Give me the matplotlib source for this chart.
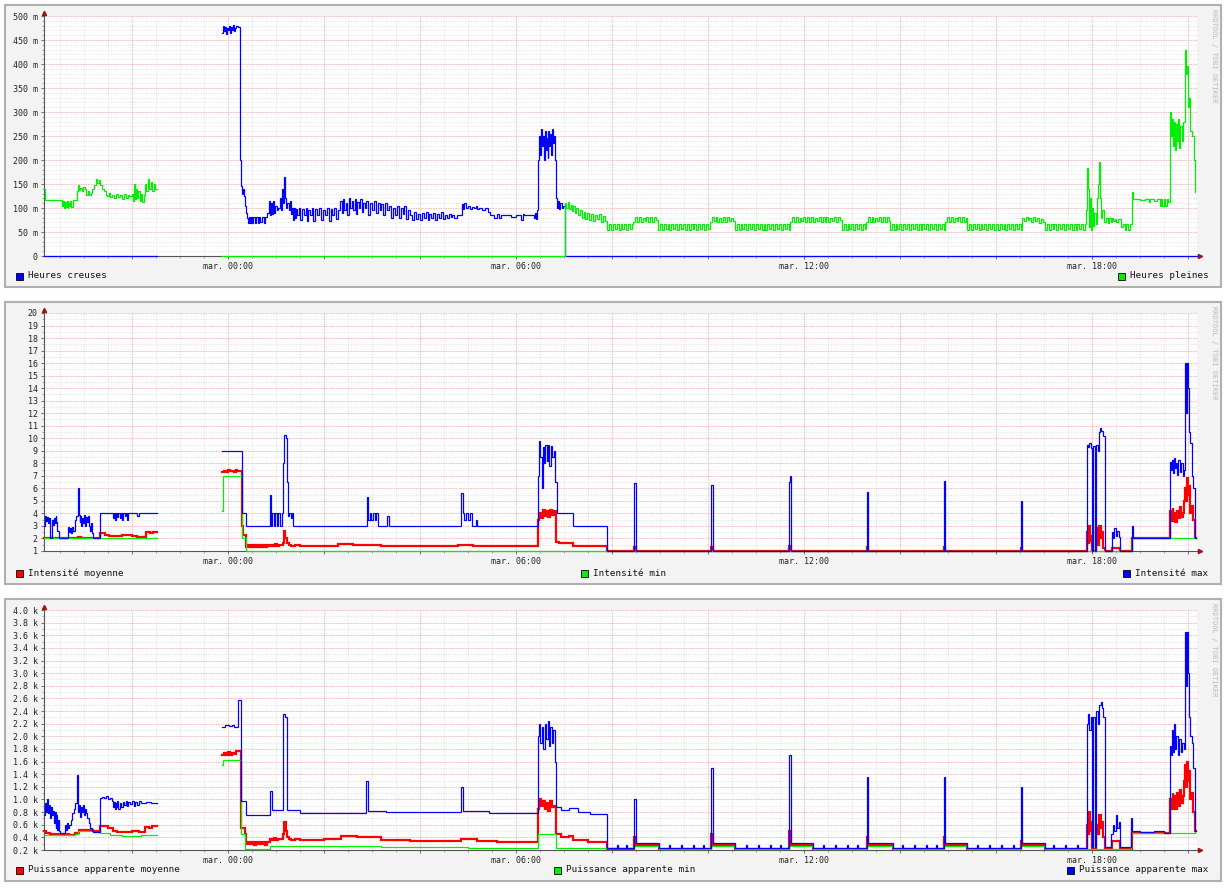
import numpy as np
import matplotlib
matplotlib.use('Agg')
import matplotlib.pyplot as plt
from matplotlib.patches import Rectangle
from matplotlib.ticker import MultipleLocator, FuncFormatter

nan = float('nan')

# time axis in hours since Monday 00:00 (window Mon 20:10 -> Tue 20:10)
T_START, T_END = 20.17, 44.19

# ---- panel 1 : consommation (m) ----
HC = [(20.17, 0), (22.52, nan),
      (23.88, 465), (23.90, 480), (23.92, 468), (23.94, 478), (23.96, 462), (23.98, 475), (24.00, 470),
      (24.02, 480), (24.04, 465), (24.06, 478), (24.08, 470), (24.10, 482), (24.12, 468), (24.14, 476),
      (24.17, 480), (24.21, 478), (24.25, 200), (24.27, 145), (24.29, 130), (24.31, 140), (24.33, 125),
      (24.35, 105), (24.38, 90), (24.40, 80), (24.42, 68), (24.44, 82), (24.46, 68), (24.48, 82), (24.50, 68),
      (24.53, 82), (24.56, 68), (24.59, 82), (24.62, 68), (24.65, 82), (24.68, 70), (24.71, 82), (24.75, 68),
      (24.78, 82), (24.82, 90), (24.86, 115), (24.88, 85), (24.90, 110), (24.92, 88), (24.94, 115), (24.96, 90),
      (24.99, 105), (25.02, 95), (25.05, 100), (25.08, 120), (25.10, 95), (25.12, 140), (25.14, 110),
      (25.17, 165), (25.19, 120), (25.21, 100), (25.24, 110), (25.27, 95), (25.29, 115), (25.31, 88),
      (25.33, 100), (25.35, 75), (25.37, 100), (25.40, 80), (25.42, 98), (25.45, 85), (25.48, 100), (25.51, 75),
      (25.54, 98), (25.58, 85), (25.62, 100), (25.65, 72), (25.68, 95), (25.72, 85), (25.75, 100), (25.78, 72),
      (25.82, 98), (25.86, 85), (25.90, 100), (25.94, 75), (25.98, 95), (26.02, 85), (26.06, 100), (26.10, 72),
      (26.14, 98), (26.18, 85), (26.22, 100), (26.26, 78), (26.30, 95), (26.34, 115), (26.37, 90), (26.40, 118),
      (26.43, 95), (26.46, 110), (26.49, 85), (26.52, 120), (26.55, 100), (26.58, 115), (26.61, 95), (26.64, 118),
      (26.67, 88), (26.70, 112), (26.73, 100), (26.76, 118), (26.79, 92), (26.82, 110), (26.85, 100),
      (26.88, 115), (26.92, 85), (26.96, 110), (27.00, 95), (27.04, 115), (27.08, 90), (27.12, 110), (27.16, 95),
      (27.20, 108), (27.24, 85), (27.28, 110), (27.32, 95), (27.36, 105), (27.40, 80), (27.44, 100), (27.48, 85),
      (27.52, 105), (27.56, 80), (27.60, 100), (27.64, 88), (27.68, 105), (27.72, 78), (27.76, 95), (27.80, 85),
      (27.84, 75), (27.88, 92), (27.92, 78), (27.96, 88), (28.00, 75), (28.04, 90), (28.08, 80), (28.12, 92),
      (28.16, 75), (28.20, 88), (28.24, 80), (28.28, 90), (28.32, 76), (28.36, 88), (28.40, 80), (28.44, 92),
      (28.48, 78), (28.52, 85), (28.56, 80), (28.60, 88), (28.64, 82), (28.68, 86), (28.72, 80), (28.78, 85),
      (28.87, 108), (28.90, 98), (28.93, 110), (28.96, 100), (29.00, 105), (29.04, 98), (29.08, 103),
      (29.12, 100), (29.16, 105), (29.20, 98), (29.24, 100), (29.30, 95), (29.36, 100), (29.42, 92),
      (29.46, 85), (29.55, 80), (29.60, 88), (29.65, 80), (29.70, 85), (29.90, 82), (30.00, 85), (30.10, 75),
      (30.14, 88), (30.18, 85), (30.38, 80), (30.40, 90), (30.42, 78), (30.44, 95), (30.46, 200), (30.48, 250),
      (30.50, 210), (30.52, 265), (30.54, 230), (30.56, 250), (30.58, 200), (30.60, 260), (30.62, 220),
      (30.64, 245), (30.66, 205), (30.68, 260), (30.70, 230), (30.72, 255), (30.74, 210), (30.76, 265),
      (30.78, 235), (30.80, 250), (30.82, 200), (30.84, 120), (30.86, 100), (30.88, 115), (30.90, 98),
      (30.93, 110), (30.96, 100), (30.99, 105), (31.02, 0), (T_END, 0)]

HP = [(20.17, 140), (20.19, 117), (20.54, 105), (20.56, 115), (20.58, 100), (20.60, 112), (20.62, 102),
      (20.64, 114), (20.66, 100), (20.68, 110), (20.70, 104), (20.72, 115), (20.74, 102), (20.77, 117),
      (20.86, 135), (20.88, 147), (20.90, 138), (20.93, 142), (20.96, 136), (20.99, 144), (21.02, 140),
      (21.05, 128), (21.08, 136), (21.11, 128), (21.14, 132), (21.18, 140), (21.22, 148), (21.25, 160),
      (21.28, 152), (21.31, 158), (21.34, 148), (21.38, 140), (21.42, 135), (21.46, 128), (21.49, 125),
      (21.52, 132), (21.55, 122), (21.59, 128), (21.63, 120), (21.67, 130), (21.71, 122), (21.75, 128),
      (21.79, 118), (21.83, 130), (21.87, 120), (21.91, 127), (21.95, 124), (22.00, 130), (22.03, 115),
      (22.05, 150), (22.07, 118), (22.09, 140), (22.11, 120), (22.13, 135), (22.16, 115), (22.19, 130),
      (22.22, 112), (22.25, 128), (22.28, 150), (22.30, 135), (22.33, 160), (22.36, 140), (22.39, 155),
      (22.42, 135), (22.46, 150), (22.49, 140), (22.52, nan),
      (23.88, 0), (31.02, 110), (31.05, 100), (31.08, 112), (31.11, 98), (31.14, 106), (31.17, 94),
      (31.20, 104), (31.23, 90), (31.26, 100), (31.29, 85), (31.33, 95), (31.37, 80), (31.41, 92), (31.45, 78),
      (31.49, 90), (31.53, 75), (31.57, 88), (31.61, 72), (31.65, 85), (31.69, 78), (31.73, 88), (31.77, 70),
      (31.81, 84), (31.85, 72),
      (31.90, 55), (31.94, 66), (31.98, 55), (32.02, 66), (32.06, 57), (32.10, 66), (32.14, 55), (32.18, 66),
      (32.22, 56), (32.26, 66), (32.30, 55), (32.34, 66), (32.38, 57), (32.41, 66),
      (32.44, 70), (32.48, 82), (32.52, 71), (32.56, 82), (32.60, 70), (32.64, 80), (32.68, 72), (32.72, 82),
      (32.76, 70), (32.80, 82), (32.84, 71), (32.88, 82), (32.92, 74),
      (32.96, 55), (33.00, 66), (33.04, 55), (33.08, 66), (33.12, 56), (33.16, 66), (33.20, 55), (33.24, 66),
      (33.28, 57), (33.32, 66), (33.36, 55), (33.40, 66), (33.44, 56), (33.48, 66), (33.52, 55), (33.56, 66),
      (33.60, 55), (33.64, 66), (33.68, 57), (33.72, 66), (33.76, 55), (33.80, 66), (33.84, 56), (33.88, 66),
      (33.92, 55), (33.96, 66), (34.00, 56),
      (34.04, 70), (34.08, 82), (34.12, 72), (34.16, 82), (34.20, 70), (34.24, 80), (34.28, 71), (34.32, 82),
      (34.36, 70), (34.40, 82), (34.44, 73), (34.48, 80), (34.52, 72),
      (34.56, 55), (34.60, 66), (34.64, 55), (34.68, 66), (34.72, 56), (34.76, 66), (34.80, 55), (34.84, 66),
      (34.88, 57), (34.92, 66), (34.96, 55), (35.00, 66), (35.04, 56), (35.08, 66), (35.12, 55), (35.16, 66),
      (35.20, 55), (35.24, 66), (35.28, 57), (35.32, 66), (35.36, 55), (35.40, 66), (35.44, 56), (35.48, 66),
      (35.52, 55), (35.56, 66), (35.60, 57), (35.64, 66), (35.68, 55),
      (35.71, 70), (35.75, 82), (35.79, 71), (35.83, 82), (35.87, 70), (35.91, 80), (35.95, 72), (35.99, 82),
      (36.03, 70), (36.07, 82), (36.11, 71), (36.15, 82), (36.19, 70), (36.23, 80), (36.27, 72), (36.31, 82),
      (36.35, 70), (36.39, 82), (36.43, 71), (36.47, 82), (36.51, 70), (36.55, 80), (36.59, 72), (36.63, 82),
      (36.67, 70), (36.71, 82), (36.75, 74),
      (36.79, 55), (36.83, 66), (36.87, 55), (36.91, 66), (36.95, 56), (36.99, 66), (37.03, 55), (37.07, 66),
      (37.11, 57), (37.15, 66), (37.19, 55), (37.23, 66), (37.27, 56),
      (37.29, 70), (37.33, 82), (37.37, 71), (37.41, 82), (37.45, 70), (37.49, 80), (37.53, 72), (37.57, 82),
      (37.61, 70), (37.65, 82), (37.69, 71), (37.73, 82), (37.77, 72),
      (37.79, 55), (37.83, 66), (37.87, 55), (37.91, 66), (37.95, 56), (37.99, 66), (38.03, 55), (38.07, 66),
      (38.11, 57), (38.15, 66), (38.19, 55), (38.23, 66), (38.27, 56), (38.31, 66), (38.35, 55), (38.39, 66),
      (38.43, 55), (38.47, 66), (38.51, 57), (38.55, 66), (38.59, 55), (38.63, 66), (38.67, 56), (38.71, 66),
      (38.75, 55), (38.79, 66), (38.83, 57), (38.87, 66), (38.91, 55),
      (38.94, 70), (38.98, 82), (39.02, 71), (39.06, 82), (39.10, 70), (39.14, 80), (39.18, 72), (39.22, 82),
      (39.26, 70), (39.30, 82), (39.34, 71), (39.38, 80),
      (39.40, 55), (39.44, 66), (39.48, 55), (39.52, 66), (39.56, 56), (39.60, 66), (39.64, 55), (39.68, 66),
      (39.72, 57), (39.76, 66), (39.80, 55), (39.84, 66), (39.88, 56), (39.92, 66), (39.96, 55), (40.00, 66),
      (40.04, 55), (40.08, 66), (40.12, 57), (40.16, 66), (40.20, 55), (40.24, 66), (40.28, 56), (40.32, 66),
      (40.36, 55), (40.40, 66), (40.44, 57), (40.48, 66), (40.52, 55),
      (40.54, 80), (40.58, 72), (40.62, 82), (40.66, 74), (40.70, 80), (40.74, 70), (40.78, 82), (40.82, 72),
      (40.86, 80), (40.90, 68), (40.94, 78), (40.98, 70),
      (41.02, 55), (41.06, 66), (41.10, 55), (41.14, 66), (41.18, 56), (41.22, 66), (41.26, 55), (41.30, 66),
      (41.34, 57), (41.38, 66), (41.42, 55), (41.46, 66), (41.50, 56), (41.54, 66), (41.58, 55), (41.62, 66),
      (41.66, 55), (41.70, 66), (41.74, 57), (41.78, 66), (41.82, 55), (41.86, 66),
      (41.88, 95), (41.90, 183), (41.92, 140), (41.94, 60), (41.96, 120), (41.98, 55), (42.00, 100),
      (42.02, 62), (42.05, 90), (42.08, 66), (42.10, 120), (42.12, 150), (42.14, 196), (42.16, 120),
      (42.18, 100), (42.20, 80), (42.22, 95), (42.25, 70), (42.27, 70), (42.30, 80), (42.33, 68), (42.36, 80),
      (42.39, 70), (42.42, 80), (42.45, 72), (42.48, 78), (42.51, 70), (42.55, 78), (42.60, 60), (42.64, 66),
      (42.68, 55), (42.72, 66), (42.76, 55), (42.80, 66),
      (42.83, 133), (42.85, 118), (43.00, 116), (43.10, 118), (43.18, 112), (43.22, 118), (43.30, 115),
      (43.36, 118), (43.42, 105), (43.44, 118), (43.47, 105), (43.50, 118), (43.53, 105), (43.56, 118),
      (43.59, 112), (43.63, 300), (43.65, 250), (43.67, 285), (43.69, 230), (43.71, 280), (43.73, 220),
      (43.75, 275), (43.77, 240), (43.79, 285), (43.81, 225), (43.84, 270), (43.87, 240), (43.90, 280),
      (43.93, 360), (43.95, 430), (43.97, 380), (43.99, 395), (44.01, 310), (44.03, 330), (44.05, 260),
      (44.08, 250), (44.12, 200), (44.14, 133), (44.15, nan)]

# ---- panel 2 : intensite (A) ----
I_MOY = [(20.17, 2.05), (20.50, 2.0), (20.88, 2.1), (20.95, 2.05), (21.34, 2.4), (21.45, 2.3), (21.52, 2.2),
         (21.80, 2.25), (22.00, 2.2), (22.10, 2.15), (22.30, 2.5), (22.38, 2.4), (22.45, 2.55), (22.52, nan),
         (23.88, 7.3), (23.92, 7.4), (23.96, 7.3), (24.00, 7.45), (24.04, 7.35), (24.08, 7.4), (24.12, 7.3),
         (24.16, 7.5), (24.20, 7.4), (24.25, 7.35), (24.29, 3.0), (24.31, 2.3), (24.38, 1.35), (24.42, 1.45),
         (24.46, 1.3), (24.50, 1.45), (24.54, 1.35), (24.58, 1.5), (24.62, 1.3), (24.66, 1.45), (24.70, 1.35),
         (24.74, 1.5), (24.78, 1.35), (24.82, 1.45), (24.86, 1.4), (24.90, 1.5), (24.94, 1.4), (24.98, 1.55),
         (25.02, 1.4), (25.06, 1.5), (25.10, 1.45), (25.14, 1.6), (25.17, 2.6), (25.20, 2.0), (25.23, 1.6),
         (25.27, 1.5), (25.31, 1.4), (25.40, 1.5), (25.50, 1.4), (26.30, 1.55), (26.60, 1.45), (27.20, 1.4),
         (28.80, 1.45), (29.10, 1.4), (30.46, 3.5), (30.48, 4.0), (30.52, 3.6), (30.56, 4.3), (30.60, 3.8),
         (30.64, 4.2), (30.68, 3.7), (30.72, 4.3), (30.76, 3.9), (30.80, 4.2), (30.84, 1.7), (30.90, 1.6),
         (31.19, 1.4), (31.90, 1.0), (32.47, 1.3), (32.50, 1.0), (34.07, 1.3), (34.10, 1.0), (35.69, 1.4),
         (35.74, 1.0), (37.31, 1.3), (37.34, 1.0), (38.92, 1.3), (38.95, 1.0), (40.52, 1.2), (40.55, 1.0),
         (41.90, 2.5), (41.92, 1.6), (41.94, 3.0), (41.96, 1.8), (41.98, 2.2), (42.00, 1.0), (42.09, 2.8),
         (42.12, 1.5), (42.15, 3.0), (42.18, 2.0), (42.21, 2.5), (42.24, 1.2), (42.27, 1.0), (42.42, 1.2),
         (42.58, 1.0), (42.83, 2.0), (43.63, 4.2), (43.66, 3.4), (43.68, 4.4), (43.70, 3.5), (43.72, 4.0),
         (43.74, 3.3), (43.77, 4.2), (43.80, 3.6), (43.83, 4.5), (43.86, 3.7), (43.89, 4.0), (43.92, 5.0),
         (43.94, 6.0), (43.96, 5.0), (43.98, 6.8), (44.00, 5.5), (44.02, 6.2), (44.05, 4.0), (44.08, 4.6),
         (44.11, 3.5), (44.15, 2.0), (44.17, nan)]

I_MIN = [(20.17, 2.0), (22.52, nan), (23.88, 4.2), (23.90, 7.0), (24.29, 2.0), (24.38, 1.0), (42.83, 2.0),
         (44.15, 2.0), (44.17, nan)]

I_MAX = [(20.17, 3.0), (20.19, 3.8), (20.21, 3.4), (20.23, 3.7), (20.25, 3.2), (20.27, 3.6), (20.29, 3.1),
         (20.30, 2.0), (20.33, 3.5), (20.35, 3.1), (20.37, 3.6), (20.39, 3.2), (20.41, 3.8), (20.43, 3.3),
         (20.45, 2.6), (20.48, 2.0), (20.67, 2.9), (20.69, 2.5), (20.71, 2.8), (20.73, 2.4), (20.75, 2.9),
         (20.78, 2.6), (20.81, 3.5), (20.84, 3.8), (20.87, 6.0), (20.89, 3.9), (20.91, 3.3), (20.93, 3.8),
         (20.95, 3.0), (20.97, 3.6), (20.99, 3.2), (21.01, 3.9), (21.03, 3.0), (21.05, 3.7), (21.07, 3.3),
         (21.09, 3.8), (21.11, 3.0), (21.13, 2.6), (21.15, 3.2), (21.17, 2.4), (21.19, 2.0), (21.34, 4.0),
         (21.61, 3.6), (21.63, 4.0), (21.65, 3.5), (21.67, 4.0), (21.70, 3.7), (21.72, 4.0), (21.75, 3.6),
         (21.77, 4.0), (21.80, 3.5), (21.82, 4.0), (21.85, 3.8), (21.88, 4.0), (21.90, 3.5), (21.93, 4.0),
         (22.10, 3.8), (22.14, 4.0), (22.52, nan),
         (23.88, 9.0), (24.29, 4.0), (24.38, 3.0), (24.88, 5.5), (24.90, 3.0), (24.93, 4.0), (24.96, 3.0),
         (24.99, 4.0), (25.02, 3.0), (25.05, 4.0), (25.09, 3.0), (25.13, 4.0), (25.15, 8.0), (25.17, 10.3),
         (25.21, 10.0), (25.23, 6.5), (25.25, 3.8), (25.28, 4.0), (25.31, 3.6), (25.33, 4.0), (25.36, 3.0),
         (26.90, 5.3), (26.93, 3.5), (26.96, 4.0), (26.99, 3.5), (27.02, 4.0), (27.06, 3.5), (27.09, 4.0),
         (27.13, 3.0), (27.31, 3.8), (27.35, 3.0), (28.86, 5.6), (28.90, 4.0), (28.93, 3.5), (28.96, 4.0),
         (29.00, 3.5), (29.04, 4.0), (29.08, 3.0), (29.17, 3.5), (29.20, 3.0), (30.46, 7.0), (30.48, 9.8),
         (30.51, 8.5), (30.54, 6.0), (30.56, 9.3), (30.58, 8.0), (30.61, 9.5), (30.64, 8.2), (30.67, 9.5),
         (30.70, 7.8), (30.73, 9.4), (30.76, 8.5), (30.79, 9.0), (30.82, 6.5), (30.85, 4.0), (31.19, 3.0),
         (31.90, 1.0), (32.47, 6.4), (32.50, 1.0), (34.07, 6.3), (34.10, 1.0), (35.69, 6.5), (35.71, 7.0),
         (35.74, 1.0), (37.31, 5.7), (37.34, 1.0), (38.92, 6.6), (38.95, 1.0), (40.52, 5.0), (40.55, 1.0),
         (41.90, 9.5), (41.92, 9.3), (41.95, 9.6), (41.98, 9.2), (42.00, 1.0), (42.03, 9.4), (42.06, 1.0),
         (42.09, 9.5), (42.12, 9.0), (42.15, 10.5), (42.17, 10.8), (42.20, 10.6), (42.23, 10.2), (42.27, 1.0),
         (42.42, 2.5), (42.44, 2.0), (42.47, 2.8), (42.50, 2.2), (42.53, 2.6), (42.56, 2.1), (42.58, 1.0),
         (42.83, 3.0), (42.85, 2.0), (43.63, 8.1), (43.65, 7.5), (43.67, 8.3), (43.69, 7.2), (43.71, 8.4),
         (43.73, 7.6), (43.75, 8.0), (43.77, 7.1), (43.80, 8.3), (43.83, 7.3), (43.86, 8.0), (43.89, 7.0),
         (43.92, 7.5), (43.94, 16.0), (43.96, 12.0), (43.98, 16.0), (44.00, 14.0), (44.02, 10.5), (44.05, 9.6),
         (44.08, 7.0), (44.11, 6.0), (44.15, 2.0), (44.17, nan)]

# ---- panel 3 : puissance apparente (kVA) ----
P_MOY = [(20.17, 0.50), (20.22, 0.47), (20.30, 0.46), (20.50, 0.45), (20.70, 0.44), (20.82, 0.47),
         (20.90, 0.52), (21.20, 0.50), (21.34, 0.58), (21.50, 0.55), (21.60, 0.50), (21.70, 0.48), (22.00, 0.50),
         (22.15, 0.49), (22.28, 0.57), (22.35, 0.55), (22.42, 0.58), (22.52, nan),
         (23.88, 1.70), (23.92, 1.74), (23.96, 1.70), (24.00, 1.75), (24.04, 1.71), (24.08, 1.74), (24.12, 1.72),
         (24.17, 1.76), (24.27, 0.55), (24.35, 0.45), (24.38, 0.30), (24.42, 0.33), (24.46, 0.29), (24.50, 0.32),
         (24.54, 0.28), (24.58, 0.32), (24.62, 0.29), (24.66, 0.33), (24.70, 0.29), (24.74, 0.32), (24.78, 0.28),
         (24.82, 0.32), (24.88, 0.38), (24.92, 0.36), (24.96, 0.39), (25.00, 0.36), (25.05, 0.38), (25.10, 0.37),
         (25.15, 0.45), (25.18, 0.65), (25.21, 0.50), (25.24, 0.40), (25.28, 0.38), (25.32, 0.36), (25.40, 0.38),
         (25.50, 0.36), (26.00, 0.38), (26.35, 0.42), (26.70, 0.40), (27.20, 0.36), (27.80, 0.35), (28.40, 0.34),
         (28.86, 0.37), (29.20, 0.34), (29.60, 0.33), (30.46, 0.85), (30.48, 1.0), (30.52, 0.9), (30.56, 0.98),
         (30.60, 0.85), (30.64, 0.95), (30.68, 0.82), (30.72, 0.97), (30.76, 0.88), (30.80, 0.9), (30.84, 0.45),
         (30.95, 0.40), (31.10, 0.42), (31.20, 0.36), (31.50, 0.33), (31.90, 0.21), (32.47, 0.40), (32.50, 0.28),
         (32.98, 0.21), (34.07, 0.45), (34.10, 0.28), (34.56, 0.21), (35.69, 0.50), (35.73, 0.28), (36.19, 0.21),
         (37.31, 0.40), (37.34, 0.28), (37.85, 0.21), (38.92, 0.40), (38.95, 0.28), (39.40, 0.21), (40.52, 0.35),
         (40.55, 0.28), (41.02, 0.21), (41.90, 0.60), (41.92, 0.45), (41.94, 0.80), (41.96, 0.5), (41.98, 0.65),
         (42.00, 0.21), (42.09, 0.6), (42.12, 0.45), (42.15, 0.75), (42.18, 0.55), (42.21, 0.65), (42.24, 0.4),
         (42.27, 0.21), (42.42, 0.35), (42.58, 0.21), (42.83, 0.47), (43.63, 1.0), (43.66, 0.85), (43.68, 1.1),
         (43.70, 0.9), (43.72, 1.05), (43.74, 0.85), (43.77, 1.1), (43.80, 0.9), (43.83, 1.15), (43.86, 0.95),
         (43.89, 1.05), (43.92, 1.3), (43.94, 1.55), (43.96, 1.2), (43.98, 1.6), (44.00, 1.3), (44.02, 1.45),
         (44.05, 1.0), (44.08, 1.1), (44.11, 0.8), (44.15, 0.5), (44.17, nan)]

P_MIN = [(20.17, 0.44), (20.50, 0.43), (20.82, 0.45), (20.88, 0.50), (21.20, 0.48), (21.34, 0.47),
         (21.55, 0.44), (21.80, 0.42), (22.20, 0.43), (22.52, nan),
         (23.88, 1.55), (23.90, 1.62), (24.00, 1.63), (24.27, 0.45), (24.35, 0.22), (24.88, 0.27), (25.50, 0.26),
         (27.20, 0.25), (29.00, 0.23), (30.46, 0.45), (30.84, 0.23), (32.47, 0.27), (32.98, 0.21), (34.07, 0.27),
         (34.56, 0.21), (35.69, 0.27), (36.19, 0.21), (37.31, 0.27), (37.85, 0.21), (38.92, 0.27), (39.40, 0.21),
         (40.52, 0.27), (41.02, 0.21), (42.81, 0.47), (44.15, 0.5), (44.17, nan)]

P_MAX = [(20.17, 0.75), (20.19, 0.95), (20.21, 0.80), (20.23, 1.00), (20.25, 0.78), (20.27, 0.92),
         (20.29, 0.70), (20.31, 0.88), (20.33, 0.75), (20.35, 0.82), (20.37, 0.62), (20.39, 0.80), (20.41, 0.55),
         (20.43, 0.75), (20.45, 0.52), (20.47, 0.68), (20.49, 0.50), (20.51, 0.47), (20.61, 0.60), (20.63, 0.52),
         (20.65, 0.62), (20.67, 0.55), (20.70, 0.60), (20.73, 0.68), (20.76, 0.78), (20.79, 0.85), (20.82, 0.95),
         (20.86, 1.38), (20.88, 0.80), (20.90, 0.92), (20.92, 0.72), (20.94, 0.88), (20.96, 0.80), (20.98, 0.92),
         (21.00, 0.75), (21.02, 0.85), (21.04, 0.78), (21.07, 0.70), (21.10, 0.62), (21.13, 0.55), (21.16, 0.50),
         (21.19, 0.48), (21.34, 1.02), (21.38, 1.04), (21.42, 1.02), (21.46, 1.05), (21.50, 1.0), (21.54, 1.02),
         (21.58, 0.98), (21.60, 0.88), (21.62, 0.96), (21.64, 0.85), (21.66, 0.95), (21.68, 0.88), (21.70, 0.97),
         (21.72, 0.85), (21.75, 0.95), (21.78, 0.88), (21.81, 0.96), (21.84, 0.92), (21.87, 0.98), (21.90, 0.90),
         (21.93, 0.96), (21.96, 0.93), (22.00, 0.97), (22.04, 0.90), (22.07, 0.96), (22.10, 0.92), (22.14, 0.97),
         (22.20, 0.94), (22.30, 0.96), (22.40, 0.95), (22.52, nan),
         (23.88, 2.15), (23.95, 2.18), (24.02, 2.16), (24.08, 2.18), (24.12, 2.15), (24.21, 2.58), (24.27, 0.97),
         (24.38, 0.75), (24.88, 1.13), (24.91, 0.83), (25.15, 2.35), (25.20, 2.30), (25.24, 0.83), (25.50, 0.78),
         (26.88, 1.30), (26.92, 0.82), (27.30, 0.80), (28.86, 1.20), (28.90, 0.82), (29.45, 0.78), (30.46, 2.0),
         (30.48, 2.2), (30.51, 1.9), (30.54, 2.15), (30.57, 1.8), (30.60, 2.2), (30.63, 1.95), (30.66, 2.25),
         (30.69, 1.85), (30.72, 2.15), (30.75, 1.9), (30.78, 2.1), (30.81, 1.6), (30.84, 0.88), (30.95, 0.84),
         (31.10, 0.86), (31.30, 0.80), (31.55, 0.77),
         (31.90, 0.23), (32.10, 0.28), (32.12, 0.23), (32.30, 0.28), (32.32, 0.23),
         (32.47, 1.00), (32.50, 0.31), (32.98, 0.23), (33.20, 0.28), (33.22, 0.23), (33.45, 0.28), (33.47, 0.23),
         (33.70, 0.28), (33.72, 0.23), (33.90, 0.28), (33.92, 0.23),
         (34.07, 1.50), (34.10, 0.31), (34.56, 0.23), (34.80, 0.28), (34.82, 0.23), (35.05, 0.28), (35.07, 0.23),
         (35.30, 0.28), (35.32, 0.23), (35.50, 0.28), (35.52, 0.23),
         (35.69, 1.70), (35.73, 0.31), (36.19, 0.23), (36.40, 0.28), (36.42, 0.23), (36.65, 0.28), (36.67, 0.23),
         (36.90, 0.28), (36.92, 0.23), (37.10, 0.28), (37.12, 0.23),
         (37.31, 1.35), (37.34, 0.31), (37.85, 0.23), (38.05, 0.28), (38.07, 0.23), (38.30, 0.28), (38.32, 0.23),
         (38.55, 0.28), (38.57, 0.23), (38.75, 0.28), (38.77, 0.23),
         (38.92, 1.35), (38.95, 0.31), (39.40, 0.23), (39.60, 0.28), (39.62, 0.23), (39.85, 0.28), (39.87, 0.23),
         (40.10, 0.28), (40.12, 0.23), (40.35, 0.28), (40.37, 0.23),
         (40.52, 1.20), (40.55, 0.31), (41.02, 0.23), (41.20, 0.28), (41.22, 0.23), (41.45, 0.28), (41.47, 0.23),
         (41.70, 0.28), (41.72, 0.23),
         (41.90, 2.2), (41.92, 2.35), (41.95, 2.1), (41.98, 2.3), (42.00, 0.25), (42.03, 2.3), (42.06, 0.25),
         (42.09, 2.4), (42.12, 2.2), (42.15, 2.5), (42.18, 2.55), (42.21, 2.45), (42.24, 2.3), (42.27, 0.25),
         (42.40, 0.45), (42.44, 0.6), (42.47, 0.5), (42.50, 0.75), (42.53, 0.55), (42.56, 0.65), (42.58, 0.25),
         (42.81, 0.70), (42.83, 0.50), (43.00, 0.48), (43.30, 0.50), (43.50, 0.47), (43.63, 1.85), (43.65, 1.7),
         (43.67, 2.1), (43.69, 1.75), (43.71, 2.2), (43.73, 1.8), (43.76, 2.0), (43.79, 1.7), (43.82, 1.95),
         (43.85, 1.75), (43.88, 1.9), (43.91, 1.8), (43.94, 3.65), (43.96, 2.8), (43.98, 3.65), (44.00, 3.0),
         (44.02, 2.3), (44.05, 2.0), (44.08, 1.9), (44.11, 1.5), (44.15, 0.5), (44.17, nan)]

BLUE, GREEN, RED = '#0000FF', '#00EE00', '#FF0000'
W, H = 1227, 890
MONO = 'DejaVu Sans Mono'


def fx(x):
    return x / W


def fy(y):
    return 1 - y / H


def split(points):
    t, v = zip(*points)
    return np.array(t, dtype=float), np.array(v, dtype=float)


def hour_label(t, pos):
    h = int(round(t))
    if h % 6 == 0:
        return 'mar. %02d:00' % (h % 24)
    return ''


def setup_axes(ax, ylim, major, minor, fmt):
    ax.set_xlim(T_START, T_END)
    ax.set_ylim(*ylim)
    ax.set_facecolor('white')
    ax.set_axisbelow(True)
    for s in ['top', 'right']:
        ax.spines[s].set_visible(False)
    for s in ['left', 'bottom']:
        ax.spines[s].set_color('#555555')
        ax.spines[s].set_linewidth(0.8)
    ax.xaxis.set_major_locator(MultipleLocator(2))
    ax.xaxis.set_minor_locator(MultipleLocator(0.5))
    ax.xaxis.set_major_formatter(FuncFormatter(hour_label))
    ax.yaxis.set_major_locator(MultipleLocator(major))
    ax.yaxis.set_minor_locator(MultipleLocator(minor))
    ax.yaxis.set_major_formatter(FuncFormatter(fmt))
    ax.grid(which='minor', color='#E2E2E2', lw=0.6, ls=(0, (1, 1)))
    ax.grid(which='major', color='#F2A0A0', lw=0.6, ls=(0, (1, 1)))
    ax.tick_params(which='major', length=2.5, width=0.6, color='#555555', pad=2,
                   labelsize=6, labelcolor='#222222')
    ax.tick_params(which='minor', length=1.5, width=0.5, color='#888888')
    for lab in ax.get_xticklabels() + ax.get_yticklabels():
        lab.set_fontfamily(MONO)
    # small arrows at the end of the axes
    ax.plot([T_END + 0.06], [ylim[0]], marker='>', ms=3, color='#A01010', clip_on=False)
    ax.plot([T_START], [ylim[1] + (ylim[1] - ylim[0]) * 0.012], marker='^', ms=3,
            color='#A01010', clip_on=False)


def draw(ax, points, color, lw):
    t, v = split(points)
    ax.step(t, v, where='post', color=color, lw=lw, solid_joinstyle='miter',
            zorder=3, clip_on=False)


def legend_item(fig, label, color, sq_x, y, text_x):
    fig.add_artist(Rectangle((fx(sq_x), fy(y + 3.5)), 7 / W, 7 / H, transform=fig.transFigure,
                             facecolor=color, edgecolor='black', lw=0.6, zorder=5))
    fig.text(fx(text_x), fy(y), label, fontsize=6.7, family=MONO, va='center', ha='left',
             color='#111111')


fig = plt.figure(figsize=(W / 100, H / 100), dpi=100)
fig.patch.set_facecolor('white')

panel_tops = [5, 302, 599]
for top in panel_tops:
    fig.add_artist(Rectangle((fx(5), fy(top + 282)), 1216 / W, 282 / H, transform=fig.transFigure,
                             facecolor='#F3F3F3', edgecolor='#B0B0B0', lw=1.5, zorder=-2))
    fig.text(fx(1214), fy(top + 4), 'RRDTOOL / TOBI OETIKER', rotation=270, fontsize=5,
             family=MONO, color='#B8B8B8', ha='center', va='top')

left, width = fx(44), (1197 - 44) / W

# panel 1
ax1 = fig.add_axes([left, fy(256), width, (256 - 16) / H])
setup_axes(ax1, (0, 500), 50, 10, lambda v, p: '0' if v == 0 else '%d m' % v)
draw(ax1, HC, BLUE, 0.9)
draw(ax1, HP, GREEN, 0.9)
legend_item(fig, 'Heures creuses', BLUE, 16, 276, 28)
legend_item(fig, 'Heures pleines', GREEN, 1118, 276, 1130)

# panel 2
ax2 = fig.add_axes([left, fy(551), width, (551 - 313) / H])
setup_axes(ax2, (1, 20), 1, 0.5, lambda v, p: '%d' % round(v))
draw(ax2, I_MOY, RED, 1.6)
draw(ax2, I_MIN, GREEN, 0.9)
draw(ax2, I_MAX, BLUE, 0.9)
legend_item(fig, 'Intensité moyenne', RED, 16, 573, 28)
legend_item(fig, 'Intensité min', GREEN, 581, 573, 593)
legend_item(fig, 'Intensité max', BLUE, 1123, 573, 1135)

# panel 3
ax3 = fig.add_axes([left, fy(850), width, (850 - 610) / H])
setup_axes(ax3, (0.2, 4.0), 0.2, 0.1, lambda v, p: '%.1f k' % v)
draw(ax3, P_MOY, RED, 1.6)
draw(ax3, P_MIN, GREEN, 0.9)
draw(ax3, P_MAX, BLUE, 0.9)
legend_item(fig, 'Puissance apparente moyenne', RED, 16, 870, 28)
legend_item(fig, 'Puissance apparente min', GREEN, 554, 870, 566)
legend_item(fig, 'Puissance apparente max', BLUE, 1067, 870, 1079)

fig.savefig('out.png', dpi=100, facecolor=fig.get_facecolor())
